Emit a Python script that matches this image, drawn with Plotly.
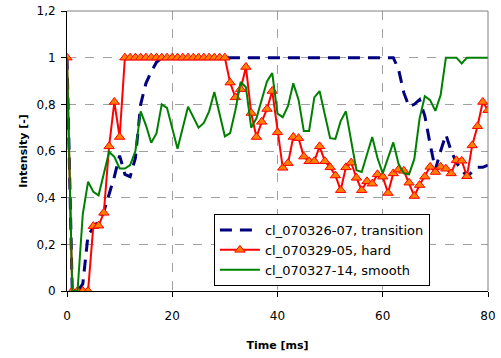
import plotly.graph_objects as go

# ---- data ----
t_trans = list(range(0, 81))
v_trans = [1.0, 0.0, 0.0, 0.03, 0.24, 0.27, 0.30, 0.34, 0.41, 0.49,
           0.58, 0.50, 0.49, 0.57, 0.80, 0.89, 0.94, 0.98, 1.0, 1.0,
           1.0, 1.0, 1.0, 1.0, 1.0, 1.0, 1.0, 1.0, 1.0, 1.0,
           1.0, 1.0, 1.0, 1.0, 1.0, 1.0, 1.0, 1.0, 1.0, 1.0,
           1.0, 1.0, 1.0, 1.0, 1.0, 1.0, 1.0, 1.0, 1.0, 1.0,
           1.0, 1.0, 1.0, 1.0, 1.0, 1.0, 1.0, 1.0, 1.0, 1.0,
           1.0, 1.0, 1.0, 0.95, 0.85, 0.79, 0.80, 0.82, 0.75, 0.63,
           0.52, 0.60, 0.67, 0.60, 0.55, 0.52, 0.49, 0.51, 0.53, 0.53,
           0.54]

t_hard = list(range(0, 82))
v_hard = [1.0, 0.0, 0.0, 0.0, 0.0, 0.278, 0.28, 0.335, 0.62, 0.81,
          0.66, 1.0, 1.0, 1.0, 1.0, 1.0, 1.0, 1.0, 1.0, 1.0,
          1.0, 1.0, 1.0, 1.0, 1.0, 1.0, 1.0, 1.0, 1.0, 1.0,
          1.0, 0.893, 0.83, 0.865, 0.96, 0.763, 0.66, 0.725, 0.78, 0.857,
          0.68, 0.528, 0.548, 0.66, 0.655, 0.576, 0.556, 0.556, 0.62, 0.556,
          0.53, 0.495, 0.432, 0.53, 0.55, 0.485, 0.432, 0.47, 0.46, 0.50,
          0.49, 0.42, 0.504, 0.52, 0.515, 0.464, 0.407, 0.454, 0.49, 0.532,
          0.51, 0.532, 0.524, 0.504, 0.56, 0.558, 0.492, 0.624, 0.706, 0.81,
          0.775, 0.70]

t_smooth = [0, 1, 2, 3, 4, 5, 6, 7, 8, 9, 10, 11, 12, 13, 14, 15, 16, 17, 18, 19,
            21, 23, 25, 26, 27, 28, 30, 31, 32, 33, 34, 35, 36, 37, 38, 39,
            40, 41, 42, 43, 44, 45, 46, 47, 48, 49, 50, 51, 52, 53, 54, 55, 56,
            57, 58, 59, 60, 62, 63, 64, 65, 66, 67, 68, 69, 70, 71, 72, 73, 74,
            75, 76, 77, 78, 79, 80, 81]
v_smooth = [1.0, 0.0, 0.0, 0.33, 0.468, 0.425, 0.41, 0.497, 0.596, 0.575,
            0.525, 0.525, 0.54, 0.60, 0.77, 0.71, 0.635, 0.675, 0.80, 0.785,
            0.61, 0.79, 0.70, 0.72, 0.77, 0.853, 0.663, 0.677, 0.775, 0.896,
            0.873, 0.70, 0.74, 0.82, 0.898, 0.934,
            0.76, 0.745, 0.793, 0.89, 0.82, 0.686, 0.686, 0.83, 0.857, 0.755,
            0.655, 0.652, 0.728, 0.77, 0.65, 0.518, 0.51,
            0.59, 0.66, 0.57, 0.504, 0.637, 0.545, 0.504, 0.50, 0.566, 0.74,
            0.835, 0.818, 0.772, 0.84, 1.0, 1.0, 1.0,
            0.975, 1.0, 1.0, 1.0, 1.0, 1.0, 1.0]

names = ["cl_070326-07, transition", "cl_070329-05, hard", "cl_070327-14, smooth"]
x_ticks = [0, 20, 40, 60, 80]
y_ticks = [0, 0.2, 0.4, 0.6, 0.8, 1.0, 1.2]

fig = go.Figure()
fig.add_trace(go.Scatter(x=t_trans, y=v_trans, mode="lines", name=names[0],
                         line=dict(color="#000080", width=3, dash="12px,8px")))
fig.add_trace(go.Scatter(x=t_hard, y=v_hard, mode="lines+markers", name=names[1],
                         line=dict(color="#FF0000", width=2),
                         marker=dict(symbol="triangle-up", size=9, color="#FF8000",
                                     line=dict(color="#FF0000", width=1))))
fig.add_trace(go.Scatter(x=t_smooth, y=v_smooth, mode="lines", name=names[2],
                         line=dict(color="#008000", width=2)))

# top and right plot borders (gray)
fig.add_shape(type="line", xref="paper", yref="paper", x0=0, x1=1, y0=1, y1=1,
              line=dict(color="#808080", width=1))
fig.add_shape(type="line", xref="paper", yref="paper", x0=1, x1=1, y0=0, y1=1,
              line=dict(color="#808080", width=1))

fig.update_layout(
    width=501, height=358,
    margin=dict(l=67, r=13, t=11, b=67),
    paper_bgcolor="white", plot_bgcolor="white",
    separators=",.",
    font=dict(family="DejaVu Sans", size=12, color="black"),
    showlegend=True,
    legend=dict(x=0.349, y=0.275, xanchor="left", yanchor="top",
                bgcolor="white", bordercolor="black", borderwidth=1,
                font=dict(family="DejaVu Sans", size=13, color="black"),
                tracegroupgap=0, itemwidth=40),
    xaxis=dict(range=[0, 80], tickvals=x_ticks, showline=True, linecolor="black",
               linewidth=1, ticks="outside", ticklen=5, tickcolor="black",
               ticklabelstandoff=9, automargin=False,
               showgrid=True, gridcolor="#A0A0A0", griddash="dash", gridwidth=1,
               zeroline=False,
               title=dict(text="<b>Time [ms]</b>", font=dict(size=11), standoff=18)),
    yaxis=dict(range=[0, 1.2], tickvals=y_ticks, showline=True, linecolor="black",
               linewidth=1, ticks="outside", ticklen=5, tickcolor="black",
               ticklabelstandoff=3, automargin=False,
               showgrid=True, gridcolor="#A0A0A0", griddash="dash", gridwidth=1,
               zeroline=False,
               title=dict(text="<b>Intensity [-]</b>", font=dict(size=11), standoff=6)),
)

fig.write_html("out.html")
